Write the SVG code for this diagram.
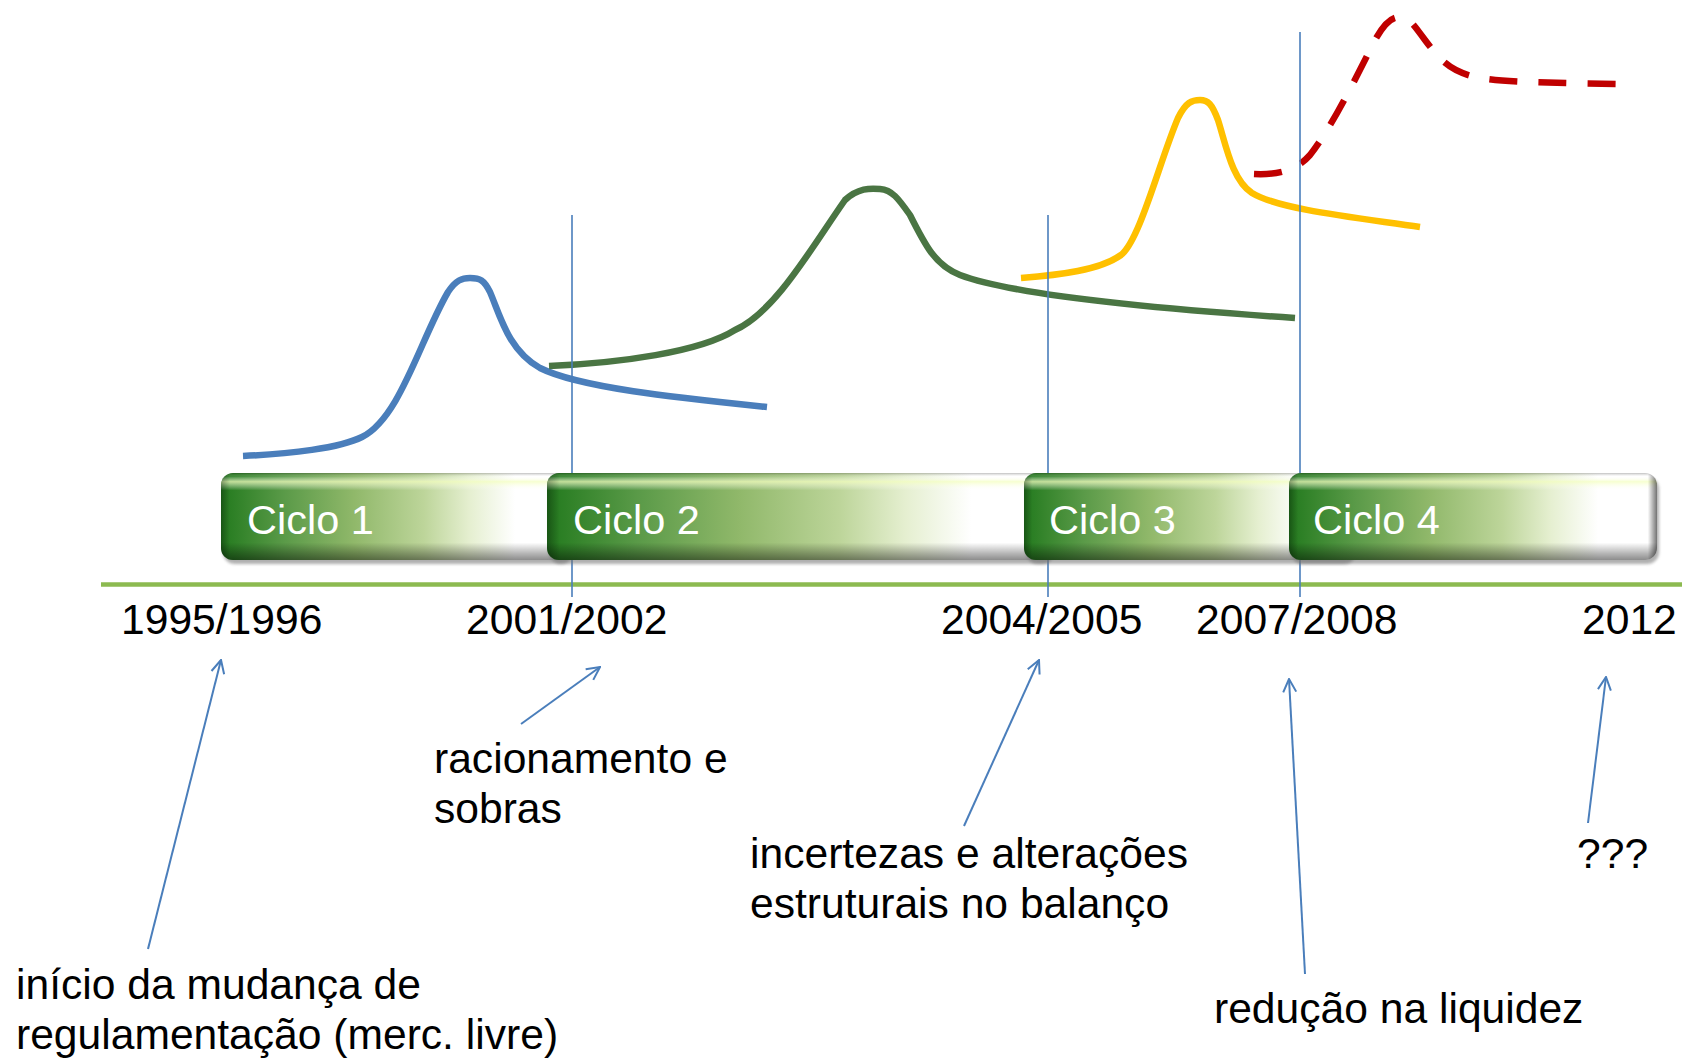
<svg xmlns="http://www.w3.org/2000/svg" width="1682" height="1061" viewBox="0 0 1682 1061">
<style>
.lbl{font-family:"Liberation Sans",Arial,sans-serif;font-size:42.6px;fill:#000}
.cic{font-family:"Liberation Sans",Arial,sans-serif;font-size:41.5px;fill:#fff}
.curve{fill:none;stroke-width:6.5;stroke-linecap:butt;stroke-linejoin:round}
.vline{stroke:#4A7EBB;stroke-width:1.6;fill:none}
.arrow{stroke:#4A7EBB;stroke-width:2;fill:none;marker-end:url(#arr)}
.base{fill:url(#gH)}
.shine{fill:url(#gV)}
.edge{fill:url(#gE)}
.shadow{fill:#6f6f6f;opacity:0.55;filter:url(#blur)}
</style>
<defs>
<linearGradient id="gH" x1="0" y1="0" x2="1" y2="0">
<stop offset="0" stop-color="#237A1E"/>
<stop offset="0.18" stop-color="#5A9A48"/>
<stop offset="0.38" stop-color="#90B86A"/>
<stop offset="0.58" stop-color="#BDD59A"/>
<stop offset="0.71" stop-color="#E5EFD0"/>
<stop offset="0.84" stop-color="#FFFFFF"/>
<stop offset="1" stop-color="#FFFFFF"/>
</linearGradient>
<linearGradient id="gV" x1="0" y1="0" x2="0" y2="1">
<stop offset="0" stop-color="#000" stop-opacity="0.25"/>
<stop offset="0.04" stop-color="#fff" stop-opacity="0.1"/>
<stop offset="0.1" stop-color="#F4FFC0" stop-opacity="0.75"/>
<stop offset="0.2" stop-color="#fff" stop-opacity="0"/>
<stop offset="0.8" stop-color="#000" stop-opacity="0"/>
<stop offset="0.93" stop-color="#000" stop-opacity="0.3"/>
<stop offset="1" stop-color="#000" stop-opacity="0.45"/>
</linearGradient>
<linearGradient id="gE" x1="0" y1="0" x2="1" y2="0">
<stop offset="0" stop-color="#000" stop-opacity="0.3"/>
<stop offset="0.025" stop-color="#000" stop-opacity="0"/>
<stop offset="0.975" stop-color="#000" stop-opacity="0"/>
<stop offset="1" stop-color="#000" stop-opacity="0.55"/>
</linearGradient>
<filter id="blur" x="-5%" y="-20%" width="110%" height="140%">
<feGaussianBlur stdDeviation="1.5"/>
</filter>
<marker id="arr" viewBox="0 0 16 16" refX="15" refY="8" markerWidth="16" markerHeight="16" markerUnits="userSpaceOnUse" orient="auto">
<path d="M2,1.5 L15,8 L2,14.5" fill="none" stroke="#4A7EBB" stroke-width="2"/>
</marker>
</defs>
<rect width="1682" height="1061" fill="#fff"/>

<g id="curves">
<path class="curve" stroke="#4A7EBB" d="M243,456 C290,454 340,448 362,437 C400,418 420,340 448,292 C456,280 462,278 470,278 C480,278 484,280 490,292 C500,315 508,350 540,368 C580,388 680,398 767,407"/>
<path class="curve" stroke="#4A7543" d="M549,366 C620,363 700,352 735,330 C775,312 810,250 845,200 C858,188 870,188 880,189 C892,190 898,198 910,215 C925,245 935,265 960,275 C1000,290 1100,305 1295,318"/>
<path class="curve" stroke="#FFC000" d="M1021,278 C1060,275 1100,270 1121,255 C1140,240 1160,160 1178,118 C1186,102 1192,100 1200,100 C1208,100 1212,104 1218,120 C1226,145 1232,180 1252,193 C1280,210 1360,218 1420,227"/>
<path class="curve" stroke="#C00000" stroke-width="7" stroke-dasharray="28 21" d="M1254,174 C1275,175 1295,172 1310,155 C1330,130 1355,80 1375,40 C1385,22 1392,17 1400,17 C1408,17 1412,22 1425,40 C1440,60 1450,72 1480,78 C1510,83 1570,83 1620,84"/>
</g>

<g id="timeline">
<line x1="101" y1="584.5" x2="1682" y2="584.5" stroke="#8CBA50" stroke-width="4.5"/>
</g>

<g id="markers">
<line class="vline" x1="572" y1="215" x2="572" y2="597"/>
<line class="vline" x1="1048" y1="215" x2="1048" y2="597"/>
<line class="vline" x1="1300" y1="32" x2="1300" y2="597"/>
</g>

<g id="ciclo1">
<rect class="shadow" x="223" y="477" width="350" height="87" rx="12"/>
<rect class="base" x="221" y="473" width="350" height="87" rx="12"/>
<rect class="shine" x="221" y="473" width="350" height="87" rx="12"/>
<rect class="edge" x="221" y="473" width="350" height="87" rx="12"/>
<text class="cic" x="247" y="534">Ciclo 1</text>
</g>
<g id="ciclo2">
<rect class="shadow" x="549" y="477" width="505" height="87" rx="12"/>
<rect class="base" x="547" y="473" width="505" height="87" rx="12"/>
<rect class="shine" x="547" y="473" width="505" height="87" rx="12"/>
<rect class="edge" x="547" y="473" width="505" height="87" rx="12"/>
<text class="cic" x="573" y="534">Ciclo 2</text>
</g>
<g id="ciclo3">
<rect class="shadow" x="1026" y="477" width="330" height="87" rx="12"/>
<rect class="base" x="1024" y="473" width="330" height="87" rx="12"/>
<rect class="shine" x="1024" y="473" width="330" height="87" rx="12"/>
<rect class="edge" x="1024" y="473" width="330" height="87" rx="12"/>
<text class="cic" x="1049" y="534">Ciclo 3</text>
</g>
<g id="ciclo4">
<rect class="shadow" x="1291" y="477" width="368" height="87" rx="12"/>
<rect class="base" x="1289" y="473" width="368" height="87" rx="12"/>
<rect class="shine" x="1289" y="473" width="368" height="87" rx="12"/>
<rect class="edge" x="1289" y="473" width="368" height="87" rx="12"/>
<text class="cic" x="1313" y="534">Ciclo 4</text>
</g>

<g id="years">
<text class="lbl" x="121" y="634">1995/1996</text>
<text class="lbl" x="466" y="634">2001/2002</text>
<text class="lbl" x="941" y="634">2004/2005</text>
<text class="lbl" x="1196" y="634">2007/2008</text>
<text class="lbl" x="1582" y="634">2012</text>
</g>

<g id="note1"><text class="lbl" x="16" y="999">início da mudança de<tspan x="16" dy="50">regulamentação (merc. livre)</tspan></text></g>
<g id="note2"><text class="lbl" x="434" y="773">racionamento e<tspan x="434" dy="50">sobras</tspan></text></g>
<g id="note3"><text class="lbl" x="750" y="868">incertezas e alterações<tspan x="750" dy="50">estruturais no balanço</tspan></text></g>
<g id="note4"><text class="lbl" x="1214" y="1023">redução na liquidez</text></g>
<g id="note5"><text class="lbl" x="1577" y="868">???</text></g>

<g id="connectors">
<line class="arrow" x1="148" y1="949" x2="221" y2="660"/>
<line class="arrow" x1="521" y1="724" x2="600" y2="667"/>
<line class="arrow" x1="964" y1="826" x2="1039" y2="660"/>
<line class="arrow" x1="1305" y1="974" x2="1289" y2="679"/>
<line class="arrow" x1="1588" y1="823" x2="1606" y2="677"/>
</g>
</svg>
